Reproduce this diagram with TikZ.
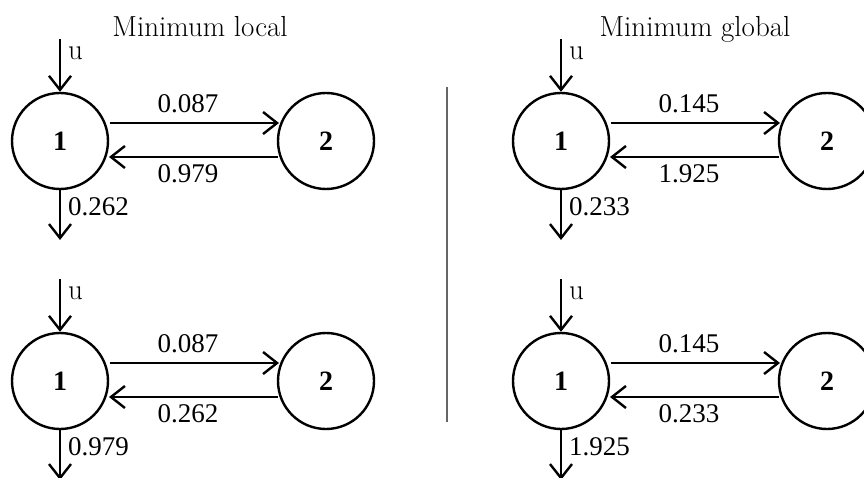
\documentclass[tikz,border=0pt]{standalone}
\usepackage{fontspec}
\newfontfamily\tms{Liberation Serif}
\usetikzlibrary{arrows.meta,calc}
\newcommand\drawpanel[6]{%
  % #1 id, #2 x, #3 y, #4 top label, #5 bottom label, #6 outflow label
  \node[st] (a#1) at (#2,#3) {1};
  \node[st] (b#1) at ($(a#1)+(266,0)$) {2};
  \coordinate (in#1) at ($(a#1)+(0,-102)$);
  \coordinate (out#1) at ($(a#1)+(0,99)$);
  \draw[arr] (in#1) -- (a#1.north);
  \node[lab,anchor=west] (u#1) at ($(a#1)+(7,-88)$) {u};
  \draw[arr] ($(a#1.center)+(50,-18)$) -- ($(b#1.center)+(-47,-18)$);
  \draw[arr] ($(b#1.center)+(-48,16)$) -- ($(a#1.center)+(49,16)$);
  \node[num] (t#1) at ($(a#1)+(128,-37)$) {#4};
  \node[num] (l#1) at ($(a#1)+(128,33)$) {#5};
  \draw[arr] (a#1.south) -- (out#1);
  \node[num,anchor=west] (o#1) at ($(a#1)+(7,66)$) {#6};
}
\begin{document}
\begin{tikzpicture}[x=1pt,y=-1pt,line width=2.4pt,
  st/.style={circle,draw,minimum size=96pt,inner sep=0pt,font=\fontsize{28}{32}\selectfont\tms\bfseries},
  arr/.style={-{Straight Barb[length=14pt,width=22pt,line width=2.4pt]}},
  num/.style={font=\fontsize{27}{32}\selectfont\tms,inner sep=0pt},
  ttl/.style={font=\fontsize{29}{34}\selectfont,inner sep=0pt,anchor=base},
  lab/.style={font=\fontsize{29}{34}\selectfont,inner sep=0pt},
  sep/.style={line width=1.2pt,draw=black!60}]
\useasboundingbox (0,0) rectangle (864,478);
\clip (0,0) rectangle (864,478);
\node[ttl] (tl) at (200,37) {Minimum local};
\node[ttl] (tg) at (695,37) {Minimum global};
\drawpanel{A}{60}{141}{0.087}{0.979}{0.262}
\drawpanel{B}{561}{141}{0.145}{1.925}{0.233}
\drawpanel{C}{60}{381}{0.087}{0.262}{0.979}
\drawpanel{D}{561}{381}{0.145}{0.233}{1.925}
\coordinate (s1) at (447,87);
\coordinate (s2) at (447,422);
\draw[sep] (s1) -- (s2);
\end{tikzpicture}
\end{document}
